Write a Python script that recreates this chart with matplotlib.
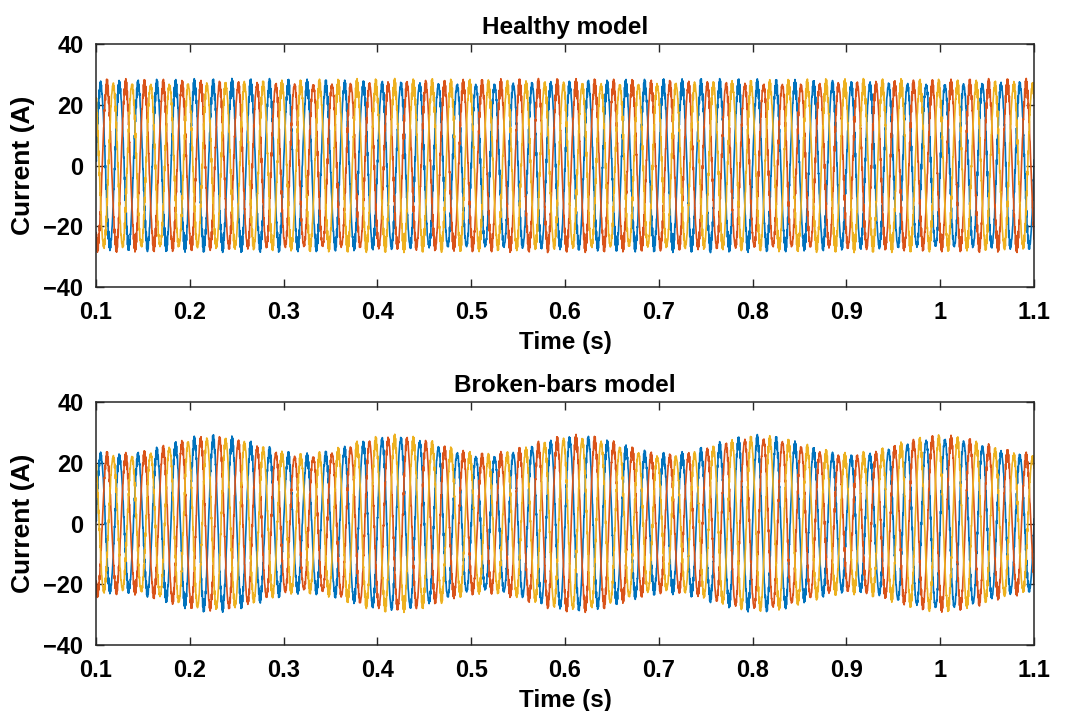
import numpy as np
import matplotlib.pyplot as plt

# stator current, three phases
phase_colors = ['#0072BD', '#D95319', '#EDB120']
phase_shift_deg = [0, -120, 120]
supply_freq = 50.0            # Hz
t_start, t_stop, dt = 0.1, 1.1, 1e-4

# healthy: fundamental + small slot-harmonic ripple
healthy_amp = 26.4
ripple_freq = [1173.0, 1271.0]   # Hz
ripple_amp = [1.3, 1.0]

# broken bars: fundamental + (1-2s)f and (1+2s)f sidebands
broken_amp = 24.6
sideband_freq = 5.15          # 2sf, Hz
sideband_amp = [1.8, 1.2]     # lower, upper
envelope_peak_time = 0.225    # s, first bump of the envelope

x_ticks = [0.1, 0.2, 0.3, 0.4, 0.5, 0.6, 0.7, 0.8, 0.9, 1.0, 1.1]
x_ticklabels = ['0.1', '0.2', '0.3', '0.4', '0.5', '0.6', '0.7', '0.8', '0.9', '1', '1.1']
y_ticks = [-40, -20, 0, 20, 40]

t = np.arange(t_start, t_stop + dt, dt)
w = 2 * np.pi * supply_freq


def ripple(ph, scale=1.0):
    r = np.zeros_like(t)
    for f, a in zip(ripple_freq, ripple_amp):
        r += scale * a * np.sin(2 * np.pi * f * t + 7 * ph)
    return r


def healthy_phase(shift):
    ph = np.deg2rad(shift)
    return healthy_amp * np.sin(w * t + ph) + ripple(ph)


def broken_phase(shift):
    ph = np.deg2rad(shift)
    wm = 2 * np.pi * sideband_freq
    tm = t - envelope_peak_time
    i = broken_amp * np.sin(w * t + ph)
    i += sideband_amp[0] * np.sin(w * t + ph - wm * tm)
    i += sideband_amp[1] * np.sin(w * t + ph + wm * tm)
    return i + ripple(ph, 0.8)


plt.rcParams['font.family'] = ['Liberation Sans', 'DejaVu Sans']
plt.rcParams['font.weight'] = 'bold'
plt.rcParams['font.size'] = 16

fig = plt.figure(figsize=(10.65, 7.11), dpi=100)
ax1 = fig.add_axes([0.0901, 0.5963, 0.8808, 0.3418])
ax2 = fig.add_axes([0.0901, 0.0928, 0.8808, 0.3418])

for ax, func, title in [(ax1, healthy_phase, 'Healthy model'),
                        (ax2, broken_phase, 'Broken-bars model')]:
    for c, s in zip(phase_colors, phase_shift_deg):
        ax.plot(t, func(s), color=c, lw=1.2)
    ax.set_xlim(t_start, t_stop)
    ax.set_ylim(-40, 40)
    ax.set_xticks(x_ticks)
    ax.set_xticklabels(x_ticklabels)
    ax.set_yticks(y_ticks)
    ax.tick_params(direction='in', top=True, right=True, length=6, width=1.0,
                   labelsize=17, color='#262626')
    ax.tick_params(axis='x', pad=10)
    ax.tick_params(axis='y', pad=9)
    for sp in ax.spines.values():
        sp.set_linewidth(1.1)
        sp.set_color('#262626')
    ax.set_title(title, fontsize=17.5, fontweight='bold', pad=7)
    ax.set_xlabel('Time (s)', fontsize=17.5, fontweight='bold', labelpad=5)
    ax.set_ylabel('Current (A)', fontsize=19, fontweight='bold', labelpad=6)

fig.savefig('out.png', dpi=100)
